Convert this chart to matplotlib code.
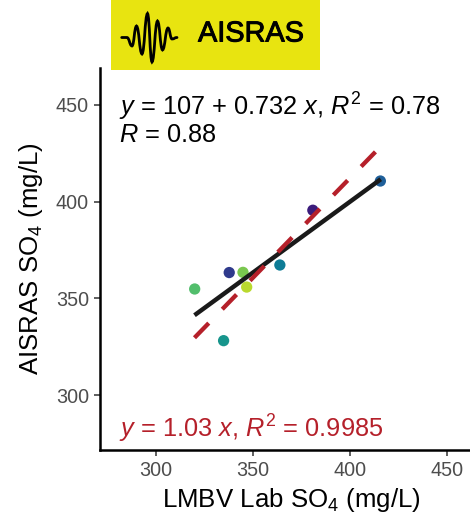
import matplotlib
matplotlib.use("Agg")
import matplotlib.pyplot as plt
import matplotlib.patheffects as pe
import numpy as np
from matplotlib.path import Path
from matplotlib.patches import PathPatch, Rectangle

plt.rcParams['font.family'] = ['Liberation Sans', 'DejaVu Sans']
plt.rcParams['mathtext.fontset'] = 'custom'
plt.rcParams['mathtext.rm'] = 'Liberation Sans'
plt.rcParams['mathtext.it'] = 'Liberation Sans:italic'
plt.rcParams['mathtext.bf'] = 'Liberation Sans:bold'

# data
lab_so4 = [320.1, 337.9, 345.0, 346.9, 335.0, 364.0, 381.0, 415.8]
aisras_so4 = [354.8, 363.3, 363.4, 355.8, 328.1, 367.2, 395.5, 410.6]
point_colors = ['#52BE6C', '#2F3A8C', '#7AC74F', '#B9D92E', '#17958C', '#0E7C96', '#3B1C7C', '#1F5F99']
fit_intercept = 107
fit_slope = 0.732
origin_slope = 1.03
fit_x = [320, 416]
origin_x = [320, 416]
ticks = [300, 350, 400, 450]

W, H = 470, 518
RED = '#B5202A'
fig = plt.figure(figsize=(W / 100, H / 100), dpi=100)
L, R, T, B = 100, 470, 68, 450
ax = fig.add_axes([L / W, 1 - B / H, (R - L) / W, (B - T) / H])

ax.set_xlim(271.3, 462)
ax.set_ylim(271.6, 469)
ax.scatter(lab_so4, aisras_so4, c=point_colors, s=66, linewidths=0, zorder=2)
fx = np.array(fit_x)
ax.plot(fx, fit_intercept + fit_slope * fx, color='#1A1A1A', lw=3.2, solid_capstyle='butt', zorder=3)
ox = np.array(origin_x)
ax.plot(ox, origin_slope * ox, color=RED, lw=3.1, dashes=(4.75, 4.5), dash_capstyle='butt', zorder=4)

for s in ['top', 'right']:
    ax.spines[s].set_visible(False)
for s in ['left', 'bottom']:
    ax.spines[s].set_linewidth(1.8)
    ax.spines[s].set_color('black')
ax.set_xticks(ticks)
ax.set_yticks(ticks)
ax.tick_params(axis='both', labelsize=14.2, labelcolor='#4D4D4D', color='#333333', length=4.5, width=1.1, pad=3.5)
ax.set_xlabel(r'LMBV Lab SO$_4$ (mg/L)', fontsize=18.6, labelpad=4, x=0.5165)
ax.set_ylabel(r'AISRAS SO$_4$ (mg/L)', fontsize=18.6, labelpad=8)

ax.text(119 / W, 1 - 107 / H, r'$y$ = 107 + 0.732 $x$, $R^2$ = 0.78', transform=fig.transFigure,
        fontsize=18.3, color='black', va='center')
ax.text(119 / W, 1 - 135 / H, r'$R$ = 0.88', transform=fig.transFigure, fontsize=18.3, color='black', va='center')
ax.text(119 / W, 1 - 429 / H, r'$y$ = 1.03 $x$, $R^2$ = 0.9985', transform=fig.transFigure,
        fontsize=18.3, color=RED, va='center')

# logo banner, in pixel coordinates
logo = fig.add_axes([0, 0, 1, 1], facecolor='none')
logo.set_xlim(0, W)
logo.set_ylim(H, 0)
logo.axis('off')
logo.add_patch(Rectangle((111, 0), 209, 70, facecolor='#E8E410', edgecolor='none'))
wave = [(121.7, 37.5), (127, 37.5), (132, 46), (136.5, 26), (142, 54), (147.5, 13.5), (152, 62),
        (157.5, 21), (162.5, 50), (168, 28), (172, 39), (177, 37.5)]
verts = [wave[0]]
codes = [Path.MOVETO]
for (x0, y0), (x1, y1) in zip(wave[:-1], wave[1:]):
    xm = (x0 + x1) / 2
    verts += [(xm, y0 + (y1 - y0) * 0.05), (xm, y1 - (y1 - y0) * 0.05), (x1, y1)]
    codes += [Path.CURVE4] * 3
logo.add_patch(PathPatch(Path(verts, codes), facecolor='none', edgecolor='black', lw=2.0, capstyle='round'))
logo.text(198, 33.5, 'AISRAS', fontsize=20.8, color='black', va='center', ha='left',
          path_effects=[pe.withStroke(linewidth=0.7, foreground='black')])

fig.savefig('out.png', dpi=100)
